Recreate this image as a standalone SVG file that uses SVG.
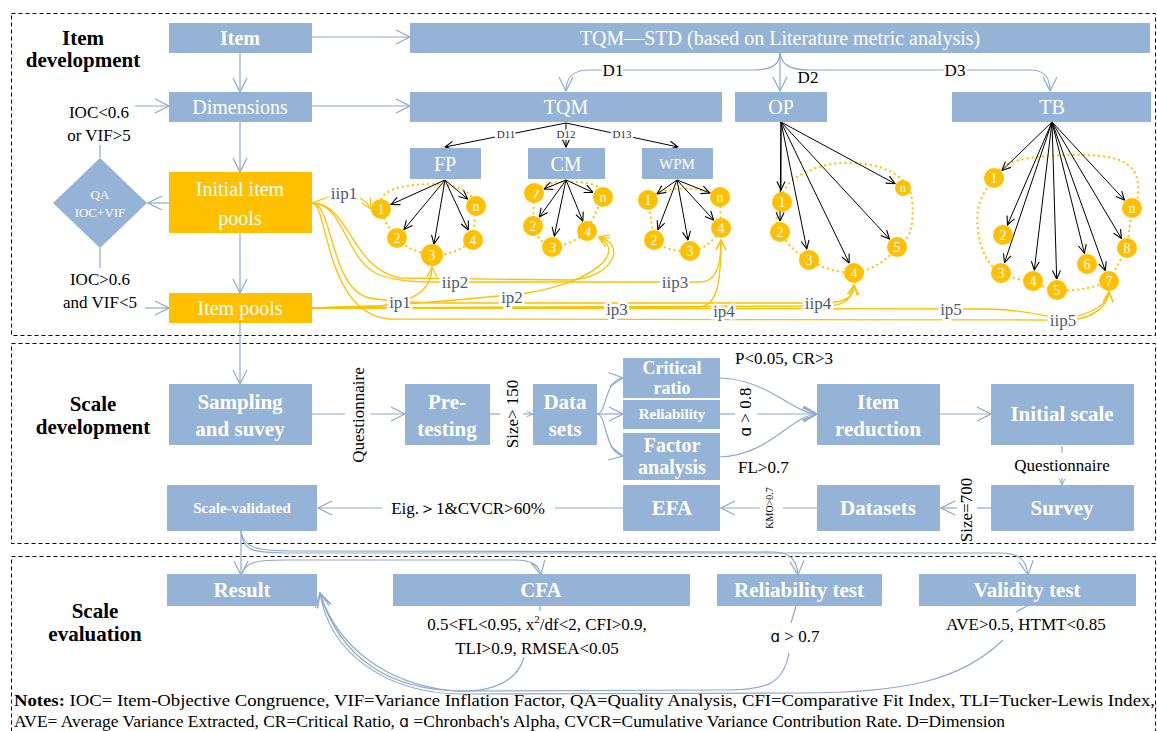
<svg xmlns="http://www.w3.org/2000/svg" width="1157" height="731" viewBox="0 0 1157 731">
<style>
.box{fill:#95B3D7}
.obox{fill:#FFC000}
.serif{font-family:"Liberation Serif","Times New Roman",Times,"Noto Serif","DejaVu Serif",serif}
.bt{font-family:"Liberation Serif","Times New Roman",Times,"Noto Serif","DejaVu Serif",serif;fill:#fff;text-anchor:middle;font-size:20px}
.b{font-weight:bold}
.lbl{font-family:"Liberation Serif","Times New Roman",Times,"Noto Serif","DejaVu Serif",serif;fill:#000;font-size:17px}
.mid{text-anchor:middle}
.halo{stroke:#fff;stroke-width:5;paint-order:stroke}
.con{fill:none;stroke:#8EAACC;stroke-width:1.2}
.ocon{fill:none;stroke:#FFC000;stroke-width:1.3}
.kcon{fill:none;stroke:#000;stroke-width:1}
.dot{fill:none;stroke:#FFC000;stroke-width:2.2;stroke-dasharray:0.1 5;stroke-linecap:round}
.cir{fill:#FFC000}
.ct{font-family:"Liberation Serif","Times New Roman",Times,"Noto Serif","DejaVu Serif",serif;fill:#fff;font-size:14px;text-anchor:middle}
.olbl{font-family:"Liberation Serif","Times New Roman",Times,"Noto Serif","DejaVu Serif",serif;fill:#4E5B6E;font-size:17px;text-anchor:middle;stroke:#fff;stroke-width:5;paint-order:stroke}
.sec{fill:none;stroke:#000;stroke-width:1;stroke-dasharray:4 3}
.head{font-family:"Liberation Serif","Times New Roman",Times,"Noto Serif","DejaVu Serif",serif;font-weight:bold;font-size:21px;text-anchor:middle;fill:#000}
.sm{font-family:"Liberation Serif","Times New Roman",Times,"Noto Serif","DejaVu Serif",serif;font-size:11px;fill:#333;text-anchor:middle;stroke:#fff;stroke-width:4;paint-order:stroke}
.alpha{font-family:"DejaVu Sans",sans-serif;font-size:15px}
</style>
<defs>
<marker id="ab" viewBox="0 0 16 16" refX="15" refY="8" markerWidth="16" markerHeight="16" markerUnits="userSpaceOnUse" orient="auto"><path d="M1,1 L15,8 L1,15" fill="none" stroke="#8EAACC" stroke-width="1.2"/></marker>
<marker id="abs" viewBox="0 0 8 8" refX="7.5" refY="4" markerWidth="8" markerHeight="8" markerUnits="userSpaceOnUse" orient="auto"><path d="M1,1 L7.5,4 L1,7" fill="none" stroke="#8EAACC" stroke-width="1"/></marker>
<marker id="ak" viewBox="0 0 10 10" refX="9.5" refY="5" markerWidth="10" markerHeight="10" markerUnits="userSpaceOnUse" orient="auto"><path d="M1,1 L9.5,5 L1,9" fill="none" stroke="#000" stroke-width="1.1"/></marker>
<marker id="ao" viewBox="0 0 12 12" refX="11" refY="6" markerWidth="12" markerHeight="12" markerUnits="userSpaceOnUse" orient="auto"><path d="M1,1 L11,6 L1,11" fill="none" stroke="#FFC000" stroke-width="1.3"/></marker>
</defs>

<rect width="1157" height="731" fill="#fff"/>

<!-- stage frames -->
<g id="stages">
<rect class="sec" x="11.5" y="13.5" width="1144" height="322"/>
<rect class="sec" x="11.5" y="343.5" width="1144" height="200"/>
<rect class="sec" x="11.5" y="556.5" width="1144" height="200"/>
<text class="head" x="83" y="45">Item</text>
<text class="head" x="83" y="67">development</text>
<text class="head" x="93" y="411">Scale</text>
<text class="head" x="93" y="434">development</text>
<text class="head" x="95" y="618">Scale</text>
<text class="head" x="95" y="641">evaluation</text>
</g>

<!-- connectors -->
<g id="connectors">
<!-- item development spine -->
<path class="con" d="M240,53 V92" marker-end="url(#ab)"/>
<path class="con" d="M240,122 V172" marker-end="url(#ab)"/>
<path class="con" d="M240,233 V293" marker-end="url(#ab)"/>
<path class="con" d="M240,323 V384" marker-end="url(#ab)"/>
<path class="con" d="M312,37 H410" marker-end="url(#ab)"/>
<path class="con" d="M312,106 H410" marker-end="url(#ab)"/>
<path class="con" d="M135,106 H169" marker-end="url(#ab)"/>
<path class="con" d="M145,308 H169" marker-end="url(#ab)"/>
<path class="con" d="M169,203 H148" marker-end="url(#ab)"/>
<path class="con" d="M100,145 V158"/>
<path class="con" d="M100,248 V268"/>
<!-- dimension split -->
<path class="con" d="M780,52 C780,65 772,70 752,70 L590,70 C572,70 566,78 566,91" marker-end="url(#ab)"/>
<path class="con" d="M780,52 V91" marker-end="url(#ab)"/>
<path class="con" d="M780,52 C781,65 790,70 810,70 L1030,70 C1045,70 1050,78 1050,91" marker-end="url(#ab)"/>
<text class="lbl mid halo" x="613" y="76">D1</text>
<text class="lbl mid" x="808" y="83">D2</text>
<text class="lbl mid halo" x="955" y="76">D3</text>
<!-- TQM sub-dimensions -->
<path class="kcon" d="M566,123 L445,147" marker-end="url(#ak)"/>
<path class="kcon" d="M566,123 L566,147" marker-end="url(#ak)"/>
<path class="kcon" d="M566,123 L678,147" marker-end="url(#ak)"/>
<text class="sm" x="506" y="138">D11</text>
<text class="sm" x="566" y="138">D12</text>
<text class="sm" x="622" y="138">D13</text>

<!-- item loops -->
<path class="dot" d="M381,209 C376,190 400,185 430,184 C455,184 472,190 476,206 L473,240 Q455,256 432,255 Q410,252 397,238 Q385,225 381,209 Z"/>
<path class="dot" d="M534,193 C540,183 560,181 577,182 C596,183 604,188 603,197 L587,231 Q570,246 552,247 Q538,242 533,226 Z"/>
<path class="dot" d="M648,200 C655,187 700,184 720,197 L721,228 Q710,249 690,251 Q665,252 654,240 Z"/>
<path class="dot" d="M782,202 C780,182 808,166 840,163 C880,161 910,175 912,200 C914,222 912,240 897,247 Q882,268 854,273 Q828,272 809,260 Q790,250 780,232 Q772,216 782,202 Z"/>
<path class="dot" d="M994,178 C1000,160 1030,156 1070,155 C1112,154 1137,160 1138,185 C1139,200 1136,205 1132,208 L1127,248 L1109,281 Q1085,292 1057,290 Q1043,288 1033,281 Q1015,280 1001,273 C980,262 974,225 979,205 C983,192 989,186 994,178 Z"/>

<!-- item arrows -->
<g class="kcon" marker-end="url(#ak)">
<path d="M445,180 L391,204.5"/>
<path d="M445,180 L404,229.5"/>
<path d="M445,180 L434,244"/>
<path d="M445,180 L468.3,230"/>
<path d="M445,180 L467.6,199"/>
<path d="M566,180 L544,189"/>
<path d="M566,180 L539.4,217"/>
<path d="M566,180 L554.3,236"/>
<path d="M566,180 L582.8,221"/>
<path d="M566,180 L593,192.4"/>
<path d="M677,180 L657,194"/>
<path d="M677,180 L657.9,229.7"/>
<path d="M677,180 L688,240"/>
<path d="M677,180 L713.6,220"/>
<path d="M677,180 L709.8,193"/>
<path d="M781,122 L781,190"/>
<path d="M781,122 L780,221"/>
<path d="M781,122 L806.8,249"/>
<path d="M781,122 L849.2,263"/>
<path d="M781,122 L889.5,239"/>
<path d="M781,122 L895,183.7"/>
<path d="M1052,122 L1002,170.4"/>
<path d="M1052,122 L1007.4,225"/>
<path d="M1052,122 L1004.5,262.6"/>
<path d="M1052,122 L1034.3,270"/>
<path d="M1052,122 L1056.7,279"/>
<path d="M1052,122 L1084.4,253.3"/>
<path d="M1052,122 L1105.3,270.6"/>
<path d="M1052,122 L1121.4,238.5"/>
<path d="M1052,122 L1124.5,200"/>
</g>

<!-- pool links -->
<path class="ocon" d="M312,203 L331,196"/>
<path class="ocon" d="M360,198 Q367,202 371,209" marker-end="url(#ao)"/>
<path class="ocon" d="M312,203 C345,203 345,262 380,275 C400,282 420,282 440,282 L700,282 C715,282 721,268 721,240" marker-end="url(#ao)"/>
<path class="ocon" d="M312,203 C350,203 350,268 400,278 L570,280 C612,278 628,245 599,237" marker-end="url(#ao)"/>
<path class="ocon" d="M312,203 C333,203 330,290 370,298 C400,303 430,303 450,303 L830,303 C848,301 854,296 854,285" marker-end="url(#ao)"/>
<path class="ocon" d="M312,203 C328,203 325,315 390,319 L1040,320 C1085,321 1108,305 1109,292" marker-end="url(#ao)"/>
<path class="ocon" d="M312,308 L380,306 C420,300 432,287 432,267" marker-end="url(#ao)"/>
<path class="ocon" d="M312,308 L380,306 C450,301 480,298 520,294 C590,285 628,252 599,238" marker-end="url(#ao)"/>
<path class="ocon" d="M312,308 L700,307 C715,305 721,290 721,240" marker-end="url(#ao)"/>
<path class="ocon" d="M312,308 L830,306 C847,304 852,297 854,285" marker-end="url(#ao)"/>
<path class="ocon" d="M312,308 L990,309 C1030,310 1050,318 1070,320 C1095,318 1108,305 1109,292" marker-end="url(#ao)"/>
<text class="olbl" x="344" y="199">iip1</text>
<text class="olbl" x="455" y="288">iip2</text>
<text class="olbl" x="675" y="288">iip3</text>
<text class="olbl" x="818" y="309">iip4</text>
<text class="olbl" x="1063" y="326">iip5</text>
<text class="olbl" x="400" y="308">ip1</text>
<text class="olbl" x="512" y="303">ip2</text>
<text class="olbl" x="617" y="315">ip3</text>
<text class="olbl" x="724" y="317">ip4</text>
<text class="olbl" x="951" y="315">ip5</text>

<!-- scale development -->
<path class="con" d="M312,414 H345"/>
<path class="con" d="M370,414 H405" marker-end="url(#ab)"/>
<path class="con" d="M490,414 H500"/>
<path class="con" d="M523,414 H533" marker-end="url(#abs)"/>
<path class="con" d="M597,414 C607,414 604,380 623,378" marker-end="url(#ab)"/>
<path class="con" d="M597,414 H623" marker-end="url(#ab)"/>
<path class="con" d="M597,414 C607,414 604,452 623,456" marker-end="url(#ab)"/>
<path class="con" d="M720,378 C770,380 790,412 817,414" marker-end="url(#ab)"/>
<path class="con" d="M720,414 H735"/>
<path class="con" d="M757,414 H817" marker-end="url(#ab)"/>
<path class="con" d="M720,457 C770,455 790,416 817,414" marker-end="url(#ab)"/>
<path class="con" d="M940,414 H991" marker-end="url(#ab)"/>
<path class="con" d="M1062,446 V453"/>
<path class="con" d="M1062,478 V485" marker-end="url(#abs)"/>
<path class="con" d="M991,508 H977"/>
<path class="con" d="M957,508 H941" marker-end="url(#ab)"/>
<path class="con" d="M817,508 H783"/>
<path class="con" d="M760,508 H721" marker-end="url(#ab)"/>
<path class="con" d="M623,508 H555"/>
<path class="con" d="M382,508 H318" marker-end="url(#ab)"/>
<text class="lbl mid" transform="translate(364,415) rotate(-90)">Questionnaire</text>
<text class="lbl mid" transform="translate(518,414) rotate(-90)">Size&gt; 150</text>
<text class="lbl" x="735" y="364">P&lt;0.05, CR&gt;3</text>
<text class="lbl mid" transform="translate(751,412) rotate(-90)"><tspan class="alpha">ɑ</tspan> &gt; 0.8</text>
<text class="lbl" x="738" y="473">FL&gt;0.7</text>
<text class="lbl mid" x="1062" y="471">Questionnaire</text>
<text class="lbl mid" transform="translate(972,510) rotate(-90)">Size=700</text>
<text class="lbl mid" style="font-size:10px" transform="translate(773,508) rotate(-90)">KMO&gt;0.7</text>
<text class="lbl mid" x="468" y="514">Eig.＞1&amp;CVCR&gt;60%</text>

<!-- evaluation feed -->
<path class="con" d="M241,531 V575" marker-end="url(#ab)"/>
<path class="con" d="M241,531 C242,550 252,553 285,553 L1000,553 C1020,553 1026,560 1028,575" marker-end="url(#ab)"/>
<path class="con" d="M241,531 C243,547 256,551 290,551 L775,552 C792,553 797,562 798,575" marker-end="url(#ab)"/>
<path class="con" d="M243,572 C246,562 258,560 285,560 L515,560 C533,560 539,566 541,575" marker-end="url(#ab)"/>

<!-- evaluation results back to Result -->
<path class="con" d="M540,606 V611"/>
<path class="con" d="M796,606 L791,623"/>
<path class="con" d="M1027,606 L1016,612"/>
<path class="con" d="M524,657 C516,688 478,694 446,690 C390,683 338,650 320,593" marker-end="url(#ab)"/>
<path class="con" d="M789,653 C783,686 765,690 720,690 L460,691 C392,690 340,660 320,593" marker-end="url(#ab)"/>
<path class="con" d="M1003,640 C962,680 905,693 800,693 L460,694 C388,693 330,655 320,593" marker-end="url(#ab)"/>
<text class="lbl mid" x="537" y="630">0.5&lt;FL&lt;0.95, x<tspan dy="-7" style="font-size:11px">2</tspan><tspan dy="7">/df&lt;2, CFI&gt;0.9,</tspan></text>
<text class="lbl mid" x="537" y="654">TLI&gt;0.9, RMSEA&lt;0.05</text>
<text class="lbl mid" x="795" y="642"><tspan class="alpha">ɑ</tspan> &gt; 0.7</text>
<text class="lbl mid" x="1026" y="630">AVE&gt;0.5, HTMT&lt;0.85</text>
</g>

<!-- item development nodes -->
<g id="n-item"><rect class="box" x="169" y="23" width="143" height="30"/><text class="bt b" x="240" y="45">Item</text></g>
<g id="n-dimensions"><rect class="box" x="169" y="92" width="143" height="30"/><text class="bt" x="240" y="114">Dimensions</text></g>
<g id="n-initial-pools"><rect class="obox" x="169" y="172" width="143" height="61"/><text class="bt" x="240" y="196">Initial item</text><text class="bt" x="240" y="225">pools</text></g>
<g id="n-item-pools"><rect class="obox" x="169" y="293" width="143" height="30"/><text class="bt" x="240" y="315">Item pools</text></g>
<g id="n-qa"><path class="box" d="M100,158 L147,203 L100,248 L53,203 Z"/><text class="bt" style="font-size:13px" x="100" y="199">QA</text><text class="bt" style="font-size:13px" x="100" y="217">IOC+VIF</text></g>
<g id="n-qa-labels">
<text class="lbl mid" x="99" y="118">IOC&lt;0.6</text>
<text class="lbl mid" x="99" y="141">or VIF&gt;5</text>
<text class="lbl mid" x="100" y="285">IOC&gt;0.6</text>
<text class="lbl mid" x="100" y="308">and VIF&lt;5</text>
</g>
<g id="n-tqm-std"><rect class="box" x="410" y="23" width="740" height="30"/><text class="bt" x="780" y="45">TQM—STD (based on Literature metric analysis)</text></g>
<g id="n-tqm"><rect class="box" x="410" y="92" width="312" height="30"/><text class="bt" x="566" y="114">TQM</text></g>
<g id="n-op"><rect class="box" x="735" y="92" width="92" height="30"/><text class="bt" x="781" y="114">OP</text></g>
<g id="n-tb"><rect class="box" x="952" y="92" width="199" height="30"/><text class="bt" x="1052" y="114">TB</text></g>
<g id="n-fp"><rect class="box" x="410" y="148" width="71" height="31"/><text class="bt" x="445" y="171">FP</text></g>
<g id="n-cm"><rect class="box" x="528" y="148" width="77" height="31"/><text class="bt" x="566" y="171">CM</text></g>
<g id="n-wpm"><rect class="box" x="642" y="148" width="71" height="31"/><text class="bt" style="font-size:15px" x="677" y="169">WPM</text></g>

<!-- item circles -->
<g id="n-fp-items">
<circle class="cir" cx="381" cy="209" r="10"/><text class="ct" x="381" y="214">1</text>
<circle class="cir" cx="397" cy="238" r="10"/><text class="ct" x="397" y="243">2</text>
<circle class="cir" cx="432" cy="255" r="11"/><text class="ct" x="432" y="260">3</text>
<circle class="cir" cx="473" cy="240" r="10"/><text class="ct" x="473" y="245">4</text>
<circle class="cir" cx="476" cy="206" r="10"/><text class="ct" x="476" y="211">n</text>
</g>
<g id="n-cm-items">
<circle class="cir" cx="534" cy="193" r="10"/><text class="ct" transform="translate(534,198) rotate(30)">1</text>
<circle class="cir" cx="533" cy="226" r="10"/><text class="ct" x="533" y="231">2</text>
<circle class="cir" cx="552" cy="247" r="10"/><text class="ct" transform="translate(552,252) rotate(10)">3</text>
<circle class="cir" cx="587" cy="231" r="10"/><text class="ct" transform="translate(587,236) rotate(10)">4</text>
<circle class="cir" cx="603" cy="197" r="10"/><text class="ct" x="603" y="202">n</text>
</g>
<g id="n-wpm-items">
<circle class="cir" cx="648" cy="200" r="10"/><text class="ct" x="648" y="205">1</text>
<circle class="cir" cx="654" cy="240" r="10"/><text class="ct" x="654" y="245">2</text>
<circle class="cir" cx="690" cy="251" r="10"/><text class="ct" x="690" y="256">3</text>
<circle class="cir" cx="721" cy="228" r="10"/><text class="ct" x="721" y="233">4</text>
<circle class="cir" cx="720" cy="197" r="10"/><text class="ct" x="720" y="202">n</text>
</g>
<g id="n-op-items">
<circle class="cir" cx="782" cy="202" r="10"/><text class="ct" x="782" y="207">1</text>
<circle class="cir" cx="780" cy="232" r="10"/><text class="ct" x="780" y="237">2</text>
<circle class="cir" cx="809" cy="260" r="10"/><text class="ct" x="809" y="265">3</text>
<circle class="cir" cx="854" cy="273" r="10"/><text class="ct" x="854" y="278">4</text>
<circle class="cir" cx="897" cy="247" r="10"/><text class="ct" x="897" y="252">5</text>
<circle class="cir" cx="903" cy="188" r="8"/><text class="ct" style="font-size:12px" x="903" y="192">n</text>
</g>
<g id="n-tb-items">
<circle class="cir" cx="994" cy="178" r="10"/><text class="ct" x="994" y="183">1</text>
<circle class="cir" cx="1003" cy="235" r="10"/><text class="ct" x="1003" y="240">2</text>
<circle class="cir" cx="1001" cy="273" r="10"/><text class="ct" x="1001" y="278">3</text>
<circle class="cir" cx="1033" cy="281" r="10"/><text class="ct" x="1033" y="286">4</text>
<circle class="cir" cx="1057" cy="290" r="10"/><text class="ct" x="1057" y="295">5</text>
<circle class="cir" cx="1087" cy="264" r="10"/><text class="ct" x="1087" y="269">6</text>
<circle class="cir" cx="1109" cy="281" r="10"/><text class="ct" x="1109" y="286">7</text>
<circle class="cir" cx="1127" cy="248" r="10"/><text class="ct" x="1127" y="253">8</text>
<circle class="cir" cx="1132" cy="208" r="10"/><text class="ct" x="1132" y="213">n</text>
</g>

<!-- scale development nodes -->
<g id="n-sampling"><rect class="box" x="169" y="384" width="143" height="61"/><text class="bt b" style="font-size:21px" x="240" y="409">Sampling</text><text class="bt b" style="font-size:21px" x="240" y="436">and suvey</text></g>
<g id="n-pretesting"><rect class="box" x="405" y="384" width="85" height="61"/><text class="bt b" style="font-size:21px" x="447" y="409">Pre-</text><text class="bt b" style="font-size:21px" x="447" y="436">testing</text></g>
<g id="n-datasets1"><rect class="box" x="533" y="384" width="64" height="61"/><text class="bt b" style="font-size:21px" x="565" y="409">Data</text><text class="bt b" style="font-size:21px" x="565" y="436">sets</text></g>
<g id="n-critical"><rect class="box" x="623" y="358" width="97" height="40"/><text class="bt b" style="font-size:18px" x="672" y="374">Critical</text><text class="bt b" style="font-size:18px" x="672" y="394">ratio</text></g>
<g id="n-reliability"><rect class="box" x="623" y="400" width="97" height="29"/><text class="bt b" style="font-size:15px" x="672" y="419">Reliability</text></g>
<g id="n-factor"><rect class="box" x="623" y="433" width="97" height="47"/><text class="bt b" x="672" y="452">Factor</text><text class="bt b" x="672" y="474">analysis</text></g>
<g id="n-item-reduction"><rect class="box" x="817" y="384" width="123" height="61"/><text class="bt b" style="font-size:21px" x="878" y="409">Item</text><text class="bt b" style="font-size:21px" x="878" y="436">reduction</text></g>
<g id="n-initial-scale"><rect class="box" x="991" y="384" width="143" height="61"/><text class="bt b" style="font-size:21px" x="1062" y="421">Initial scale</text></g>
<g id="n-survey"><rect class="box" x="991" y="485" width="143" height="46"/><text class="bt b" style="font-size:21px" x="1062" y="515">Survey</text></g>
<g id="n-datasets2"><rect class="box" x="817" y="485" width="123" height="46"/><text class="bt b" style="font-size:21px" x="878" y="515">Datasets</text></g>
<g id="n-efa"><rect class="box" x="623" y="485" width="97" height="46"/><text class="bt b" style="font-size:21px" x="672" y="515">EFA</text></g>
<g id="n-scale-validated"><rect class="box" x="167" y="485" width="150" height="46"/><text class="bt b" style="font-size:15px" x="242" y="513">Scale-validated</text></g>

<!-- evaluation nodes -->
<g id="n-result"><rect class="box" x="167" y="574" width="150" height="32"/><text class="bt b" style="font-size:21px" x="242" y="597">Result</text></g>
<g id="n-cfa"><rect class="box" x="393" y="574" width="297" height="32"/><text class="bt b" style="font-size:21px" x="541" y="597">CFA</text></g>
<g id="n-reltest"><rect class="box" x="717" y="574" width="165" height="32"/><text class="bt b" style="font-size:21px" x="799" y="597">Reliability test</text></g>
<g id="n-valtest"><rect class="box" x="919" y="574" width="217" height="32"/><text class="bt b" style="font-size:21px" x="1027" y="597">Validity test</text></g>

<!-- notes -->
<g id="notes" class="serif" font-size="17" fill="#000">
<text x="14" y="706" textLength="1141" lengthAdjust="spacingAndGlyphs"><tspan font-weight="bold">Notes:</tspan> IOC= Item-Objective Congruence, VIF=Variance Inflation Factor, QA=Quality Analysis, CFI=Comparative Fit Index, TLI=Tucker-Lewis Index,</text>
<text x="14" y="727" textLength="991" lengthAdjust="spacingAndGlyphs">AVE= Average Variance Extracted, CR=Critical Ratio, <tspan font-family="DejaVu Sans, sans-serif" font-size="15">ɑ</tspan> =Chronbach's Alpha, CVCR=Cumulative Variance Contribution Rate. D=Dimension</text>
</g>
</svg>
